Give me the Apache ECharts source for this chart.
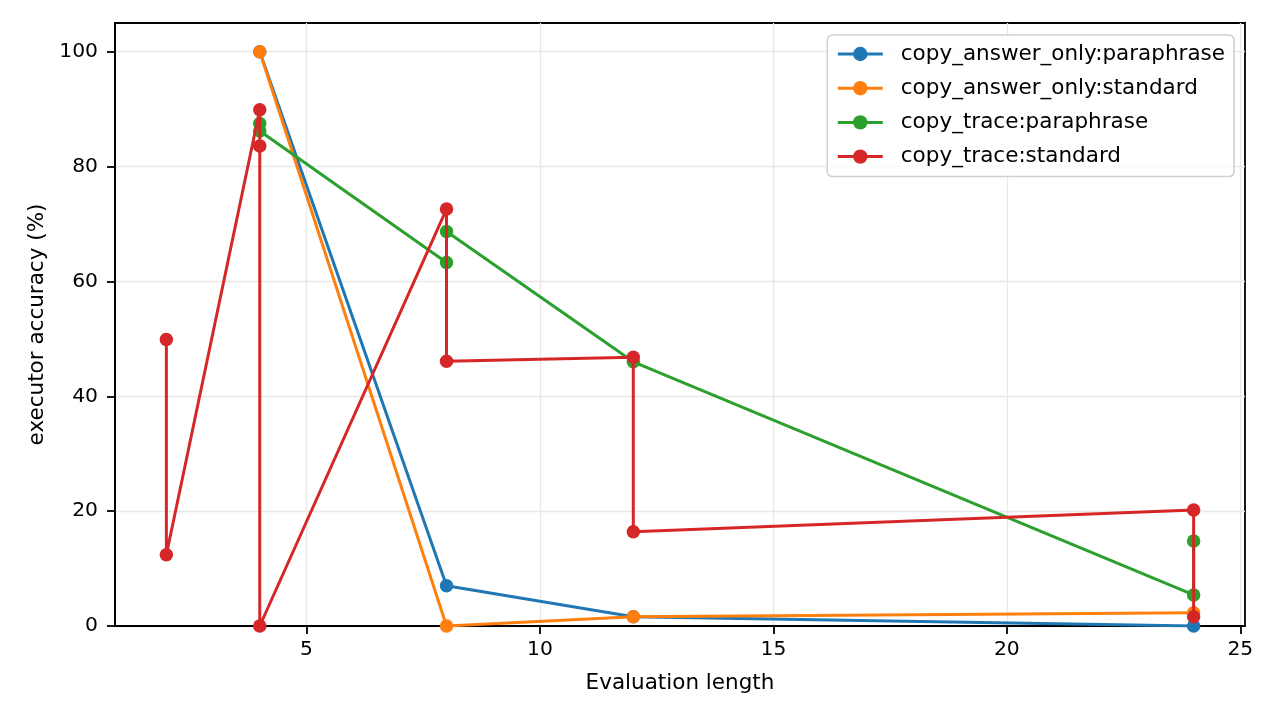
<!DOCTYPE html>
<html>
<head>
<meta charset="utf-8">
<script src="https://cdn.jsdelivr.net/npm/echarts@6/dist/echarts.min.js"></script>
<style>
  html, body { margin: 0; padding: 0; background: #fff; }
  #chart { width: 1280px; height: 720px; }
</style>
</head>
<body>
<div id="chart"></div>
<script>
const seriesNames = ['copy_answer_only:paraphrase', 'copy_answer_only:standard', 'copy_trace:paraphrase', 'copy_trace:standard']
const seriesColors = ['#1f77b4', '#ff7f0e', '#2ca02c', '#d62728']

// evaluation length / accuracy pairs, in plotting order
const answerParaX = [4, 8, 12, 24]
const answerParaY = [100, 7.0, 1.6, 0]
const answerStdX = [4, 8, 12, 24]
const answerStdY = [100, 0, 1.6, 2.3]
const traceParaX = [4, 4, 8, 8, 12, 24, 24]
const traceParaY = [87.5, 86.2, 63.3, 68.7, 46.0, 5.4, 14.8]
const traceStdX = [2, 2, 4, 4, 4, 8, 8, 12, 12, 24, 24]
const traceStdY = [49.9, 12.4, 89.9, 83.6, 0, 72.6, 46.1, 46.8, 16.4, 20.2, 1.6]

const xTicks = [5, 10, 15, 20, 25]
const yTicks = [0, 20, 40, 60, 80, 100]

const allX = [answerParaX, answerStdX, traceParaX, traceStdX]
const allY = [answerParaY, answerStdY, traceParaY, traceStdY]

const font = 'DejaVu Sans'
const chart = echarts.init(document.getElementById('chart'))

const series = seriesNames.map((name, i) => {
  return {
    name,
    type: 'line',
    data: allX[i].map((x, j) => [x, allY[i][j]]),
    symbol: 'circle',
    symbolSize: 13.5,
    showAllSymbol: true,
    lineStyle: { color: seriesColors[i], width: 3 },
    itemStyle: { color: seriesColors[i] },
    emphasis: { disabled: true },
    z: 2 + i
  }
})

const option = {
  animation: false,
  backgroundColor: '#fff',
  textStyle: { fontFamily: font },
  grid: {
    left: 115,
    top: 23,
    width: 1130,
    height: 603,
    show: true,
    borderColor: '#000',
    borderWidth: 1.8,
    containLabel: false
  },
  legend: {
    orient: 'vertical',
    right: 46,
    top: 35,
    itemWidth: 45,
    itemHeight: 18,
    itemGap: 12.2,
    padding: [8, 9, 9, 9],
    borderColor: '#d0d0d0',
    borderWidth: 1.5,
    borderRadius: 5,
    backgroundColor: 'rgba(255,255,255,0.8)',
    lineStyle: { width: 3 },
    textStyle: { fontFamily: font, fontSize: 21.5, color: '#000', padding: [0, 0, 0, 13] },
    data: seriesNames
  },
  xAxis: {
    type: 'value',
    min: 0.9,
    max: 25.1,
    interval: 5,
    name: 'Evaluation length',
    nameLocation: 'middle',
    nameGap: 46,
    nameTextStyle: { fontFamily: font, fontSize: 21.5, color: '#000' },
    axisLine: { show: true, onZero: false, lineStyle: { color: '#000', width: 1.8 } },
    axisTick: { show: true, length: 8, lineStyle: { color: '#000', width: 1.8 }, customValues: xTicks },
    axisLabel: { fontFamily: font, fontSize: 20.3, color: '#000', margin: 14, customValues: xTicks },
    splitLine: { show: true, lineStyle: { color: '#e8e8e8', width: 1.3 } }
  },
  yAxis: {
    type: 'value',
    min: 0,
    max: 105,
    interval: 20,
    name: 'executor accuracy (%)',
    nameLocation: 'middle',
    nameGap: 67,
    nameTextStyle: { fontFamily: font, fontSize: 21.5, color: '#000' },
    axisLine: { show: true, lineStyle: { color: '#000', width: 1.8 } },
    axisTick: { show: true, length: 8, lineStyle: { color: '#000', width: 1.8 }, customValues: yTicks },
    axisLabel: { fontFamily: font, fontSize: 20.3, color: '#000', margin: 17, customValues: yTicks },
    splitLine: { show: true, lineStyle: { color: '#e8e8e8', width: 1.3 } }
  },
  series
}

chart.setOption(option)
</script>
</body>
</html>
